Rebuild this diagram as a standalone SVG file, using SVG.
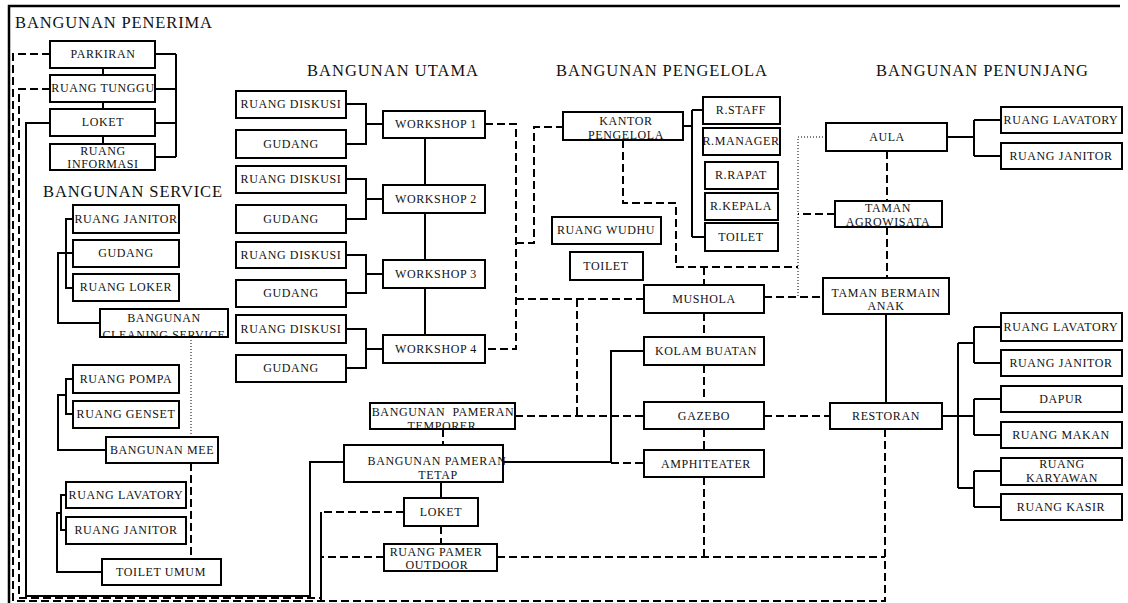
<svg xmlns="http://www.w3.org/2000/svg" width="1128" height="603" viewBox="0 0 1128 603">
<style>
.b{fill:#fff;stroke:#000;stroke-width:2}
.t{font-family:"Liberation Serif","DejaVu Serif",serif;font-size:12px;letter-spacing:0.6px;fill:#111;text-anchor:middle}
.h{font-family:"Liberation Serif","DejaVu Serif",serif;font-size:16.5px;fill:#111}
.s{fill:none;stroke:#000;stroke-width:2}
.d{fill:none;stroke:#000;stroke-width:2;stroke-dasharray:8 4}
.o{fill:none;stroke:#000;stroke-width:1;stroke-dasharray:1 2}
.f{fill:none;stroke:#000;stroke-width:2.5}
</style>
<defs>
<clipPath id="c-info"><rect x="50" y="144" width="105" height="25"/></clipPath>
<clipPath id="c-cs"><rect x="100" y="309" width="128" height="27"/></clipPath>
<clipPath id="c-kantor"><rect x="563" y="112" width="120" height="27"/></clipPath>
<clipPath id="c-agro"><rect x="835" y="201" width="107" height="25"/></clipPath>
<clipPath id="c-temp"><rect x="370" y="403" width="145" height="25"/></clipPath>
<clipPath id="c-rpo"><rect x="384" y="544" width="113" height="26"/></clipPath>
<clipPath id="c-kary"><rect x="1001" y="459" width="121" height="26"/></clipPath>
</defs>
<rect width="1128" height="603" fill="#fff"/>
<path class="f" d="M9,603 V6 H1120"/>
<text class="h" x="15" y="28" textLength="197" lengthAdjust="spacing">BANGUNAN PENERIMA</text>
<text class="h" x="43" y="197" textLength="179" lengthAdjust="spacing">BANGUNAN SERVICE</text>
<text class="h" x="307" y="76" textLength="171" lengthAdjust="spacing">BANGUNAN UTAMA</text>
<text class="h" x="556" y="76" textLength="211" lengthAdjust="spacing">BANGUNAN PENGELOLA</text>
<text class="h" x="876" y="76" textLength="212" lengthAdjust="spacing">BANGUNAN PENUNJANG</text>
<g id="connectors">
<path class="s" d="M103,68 V75 M103,102 V109 M103,136 V144"/>
<path class="s" d="M155,54 H176 M155,89 H176 M155,123 H176 M155,157 H176 M176,54 V157"/>
<path class="s" d="M50,123 H26 V596 H310 V462 H344"/>
<path class="s" d="M73,219 H66 V288 H73 M73,253 H58 V323 H100"/>
<path class="s" d="M73,379 H66 V414 H73 M66,395 H58 V450 H106"/>
<path class="s" d="M66,495 H61 V530 H66 M61,513 H57 V572 H102"/>
<path class="s" d="M346,104 H366 V144 H346 M366,124 H383"/>
<path class="s" d="M346,179 H366 V219 H346 M366,199 H383"/>
<path class="s" d="M346,255 H366 V293 H346 M366,274 H383"/>
<path class="s" d="M346,329 H366 V368 H346 M366,349 H383"/>
<path class="s" d="M425,138 V185 M425,213 V260 M425,288 V335"/>
<path class="s" d="M683,126 H692 M692,110 V237 M692,110 H703 M692,237 H705"/>
<path class="s" d="M947,137 H974 M974,120 V156 M974,120 H1001 M974,156 H1001"/>
<path class="s" d="M886,314 V403"/>
<path class="s" d="M942,416 H974 M958,343 V488 M958,343 H974 M958,488 H974 M974,327 V363 M974,327 H1001 M974,363 H1001 M974,399 V435 M974,399 H1001 M974,435 H1001 M974,471 V507 M974,471 H1001 M974,507 H1001"/>
<path class="s" d="M503,462 H611 V351 H644"/>
<path class="s" d="M441,482 V498"/>
<path class="s" d="M321,512 V600"/>
<path class="d" d="M50,54 H13 V601 H885 V429"/>
<path class="d" d="M50,89 H19 V598 H321"/>
<path class="d" d="M191,463 V559"/>
<path class="d" d="M485,124 H516 V349 H485"/>
<path class="d" d="M516,243 H534 V127 H563"/>
<path class="d" d="M516,299 H644 M577,299 V416"/>
<path class="d" d="M515,416 H644 M764,416 H830"/>
<path class="d" d="M764,297 H823"/>
<path class="d" d="M623,140 V203 H676 V267 H798 M704,267 V285"/>
<path class="d" d="M704,313 V337 M704,365 V402 M704,429 V450 M704,477 V557"/>
<path class="d" d="M611,463 H644"/>
<path class="d" d="M443,429 V445 M441,526 V544"/>
<path class="d" d="M404,512 H321 M384,557 H321 M497,557 H885"/>
<path class="d" d="M887,151 V201 M887,227 V278 M835,214 H798"/>
<path class="o" d="M191,337 V437"/>
<path class="o" d="M826,137 H798 V297"/>
</g>
<g id="parkiran"><rect class="b" x="50" y="41" width="105" height="27"/><text class="t" x="103" y="58">PARKIRAN</text></g>
<g id="ruang-tunggu"><rect class="b" x="50" y="75" width="105" height="27"/><text class="t" x="103" y="92">RUANG TUNGGU</text></g>
<g id="loket"><rect class="b" x="50" y="109" width="105" height="27"/><text class="t" x="103" y="126">LOKET</text></g>
<g id="ruang-informasi"><rect class="b" x="50" y="144" width="105" height="26"/><g clip-path="url(#c-info)"><text class="t" x="103" y="155">RUANG</text><text class="t" x="103" y="168">INFORMASI</text></g><rect x="50" y="144" width="105" height="26" fill="none" stroke="#000" stroke-width="2"/></g>
<g id="svc-janitor"><rect class="b" x="73" y="205" width="106" height="28"/><text class="t" x="126" y="223">RUANG JANITOR</text></g>
<g id="svc-gudang"><rect class="b" x="73" y="240" width="106" height="27"/><text class="t" x="126" y="257">GUDANG</text></g>
<g id="svc-loker"><rect class="b" x="73" y="274" width="106" height="27"/><text class="t" x="126" y="291">RUANG LOKER</text></g>
<g id="cleaning-service"><rect class="b" x="100" y="309" width="128" height="28"/><g clip-path="url(#c-cs)"><text class="t" x="164" y="322">BANGUNAN</text><text class="t" x="164" y="339">CLEANING SERVICE</text></g><rect x="100" y="309" width="128" height="28" fill="none" stroke="#000" stroke-width="2"/></g>
<g id="ruang-pompa"><rect class="b" x="73" y="365" width="106" height="28"/><text class="t" x="126" y="383">RUANG POMPA</text></g>
<g id="ruang-genset"><rect class="b" x="73" y="401" width="106" height="27"/><text class="t" x="126" y="418">RUANG GENSET</text></g>
<g id="bangunan-mee"><rect class="b" x="106" y="437" width="112" height="26"/><text class="t" x="162" y="454">BANGUNAN MEE</text></g>
<g id="svc-lavatory"><rect class="b" x="66" y="482" width="120" height="26"/><text class="t" x="126" y="499">RUANG LAVATORY</text></g>
<g id="svc-janitor-2"><rect class="b" x="66" y="517" width="120" height="27"/><text class="t" x="126" y="534">RUANG JANITOR</text></g>
<g id="toilet-umum"><rect class="b" x="102" y="559" width="119" height="26"/><text class="t" x="161" y="576">TOILET UMUM</text></g>
<g id="rd1"><rect class="b" x="236" y="91" width="110" height="27"/><text class="t" x="291" y="108">RUANG DISKUSI</text></g>
<g id="g1"><rect class="b" x="236" y="130" width="110" height="28"/><text class="t" x="291" y="148">GUDANG</text></g>
<g id="rd2"><rect class="b" x="236" y="166" width="110" height="27"/><text class="t" x="291" y="183">RUANG DISKUSI</text></g>
<g id="g2"><rect class="b" x="236" y="205" width="110" height="28"/><text class="t" x="291" y="223">GUDANG</text></g>
<g id="rd3"><rect class="b" x="236" y="242" width="110" height="26"/><text class="t" x="291" y="259">RUANG DISKUSI</text></g>
<g id="g3"><rect class="b" x="236" y="280" width="110" height="27"/><text class="t" x="291" y="297">GUDANG</text></g>
<g id="rd4"><rect class="b" x="236" y="315" width="110" height="28"/><text class="t" x="291" y="333">RUANG DISKUSI</text></g>
<g id="g4"><rect class="b" x="236" y="355" width="110" height="27"/><text class="t" x="291" y="372">GUDANG</text></g>
<g id="workshop-1"><rect class="b" x="383" y="111" width="102" height="27"/><text class="t" x="436" y="128">WORKSHOP 1</text></g>
<g id="workshop-2"><rect class="b" x="383" y="185" width="102" height="28"/><text class="t" x="436" y="203">WORKSHOP 2</text></g>
<g id="workshop-3"><rect class="b" x="383" y="260" width="102" height="28"/><text class="t" x="436" y="278">WORKSHOP 3</text></g>
<g id="workshop-4"><rect class="b" x="383" y="335" width="102" height="28"/><text class="t" x="436" y="353">WORKSHOP 4</text></g>
<g id="kantor-pengelola"><rect class="b" x="563" y="112" width="120" height="28"/><g clip-path="url(#c-kantor)"><text class="t" x="626" y="125">KANTOR</text><text class="t" x="626" y="139">PENGELOLA</text></g><rect x="563" y="112" width="120" height="28" fill="none" stroke="#000" stroke-width="2"/></g>
<g id="r-staff"><rect class="b" x="703" y="97" width="77" height="27"/><text class="t" x="741" y="114">R.STAFF</text></g>
<g id="r-manager"><rect class="b" x="703" y="128" width="77" height="27"/><text class="t" x="741" y="145">R.MANAGER</text></g>
<g id="r-rapat"><rect class="b" x="705" y="162" width="73" height="27"/><text class="t" x="741" y="179">R.RAPAT</text></g>
<g id="r-kepala"><rect class="b" x="705" y="193" width="73" height="27"/><text class="t" x="741" y="210">R.KEPALA</text></g>
<g id="toilet-pengelola"><rect class="b" x="705" y="223" width="73" height="28"/><text class="t" x="741" y="241">TOILET</text></g>
<g id="ruang-wudhu"><rect class="b" x="552" y="217" width="109" height="27"/><text class="t" x="606" y="234">RUANG WUDHU</text></g>
<g id="toilet-mushola"><rect class="b" x="570" y="252" width="73" height="28"/><text class="t" x="606" y="270">TOILET</text></g>
<g id="mushola"><rect class="b" x="644" y="285" width="120" height="28"/><text class="t" x="704" y="303">MUSHOLA</text></g>
<g id="kolam-buatan"><rect class="b" x="644" y="337" width="120" height="28"/><text class="t" x="706" y="355">KOLAM BUATAN</text></g>
<g id="gazebo"><rect class="b" x="644" y="402" width="120" height="27"/><text class="t" x="704" y="420">GAZEBO</text></g>
<g id="amphiteater"><rect class="b" x="644" y="450" width="120" height="27"/><text class="t" x="706" y="468">AMPHITEATER</text></g>
<g id="aula"><rect class="b" x="826" y="123" width="121" height="28"/><text class="t" x="887" y="141">AULA</text></g>
<g id="aula-lavatory"><rect class="b" x="1001" y="107" width="121" height="26"/><text class="t" x="1061" y="124">RUANG LAVATORY</text></g>
<g id="aula-janitor"><rect class="b" x="1001" y="143" width="121" height="26"/><text class="t" x="1061" y="160">RUANG JANITOR</text></g>
<g id="taman-agrowisata"><rect class="b" x="835" y="201" width="107" height="26"/><g clip-path="url(#c-agro)"><text class="t" x="888" y="212">TAMAN</text><text class="t" x="888" y="226">AGROWISATA</text></g><rect x="835" y="201" width="107" height="26" fill="none" stroke="#000" stroke-width="2"/></g>
<g id="taman-bermain"><rect class="b" x="823" y="278" width="126" height="36"/><text class="t" x="886" y="297">TAMAN BERMAIN</text><text class="t" x="886" y="310">ANAK</text></g>
<g id="restoran"><rect class="b" x="830" y="403" width="112" height="26"/><text class="t" x="886" y="420">RESTORAN</text></g>
<g id="resto-lavatory"><rect class="b" x="1001" y="313" width="121" height="28"/><text class="t" x="1061" y="331">RUANG LAVATORY</text></g>
<g id="resto-janitor"><rect class="b" x="1001" y="350" width="121" height="26"/><text class="t" x="1061" y="367">RUANG JANITOR</text></g>
<g id="dapur"><rect class="b" x="1001" y="386" width="121" height="26"/><text class="t" x="1061" y="403">DAPUR</text></g>
<g id="ruang-makan"><rect class="b" x="1001" y="422" width="121" height="26"/><text class="t" x="1061" y="439">RUANG MAKAN</text></g>
<g id="ruang-karyawan"><rect class="b" x="1001" y="458" width="121" height="27"/><g clip-path="url(#c-kary)"><text class="t" x="1062" y="468">RUANG</text><text class="t" x="1062" y="482">KARYAWAN</text></g><rect x="1001" y="458" width="121" height="27" fill="none" stroke="#000" stroke-width="2"/></g>
<g id="ruang-kasir"><rect class="b" x="1001" y="494" width="121" height="26"/><text class="t" x="1061" y="511">RUANG KASIR</text></g>
<g id="pameran-temporer"><rect class="b" x="370" y="403" width="145" height="26"/><g clip-path="url(#c-temp)"><text class="t" x="443" y="416" xml:space="preserve">BANGUNAN  PAMERAN</text><text class="t" x="442" y="430">TEMPORER</text></g><rect x="370" y="403" width="145" height="26" fill="none" stroke="#000" stroke-width="2"/></g>
<g id="pameran-tetap"><rect class="b" x="344" y="445" width="159" height="37"/><text class="t" x="437" y="465">BANGUNAN PAMERAN</text><text class="t" x="438" y="479">TETAP</text></g>
<g id="loket-pameran"><rect class="b" x="404" y="498" width="74" height="28"/><text class="t" x="441" y="516">LOKET</text></g>
<g id="ruang-pamer-outdoor"><rect class="b" x="384" y="544" width="113" height="27"/><g clip-path="url(#c-rpo)"><text class="t" x="436" y="556">RUANG PAMER</text><text class="t" x="437" y="569">OUTDOOR</text></g><rect x="384" y="544" width="113" height="27" fill="none" stroke="#000" stroke-width="2"/></g>
</svg>
